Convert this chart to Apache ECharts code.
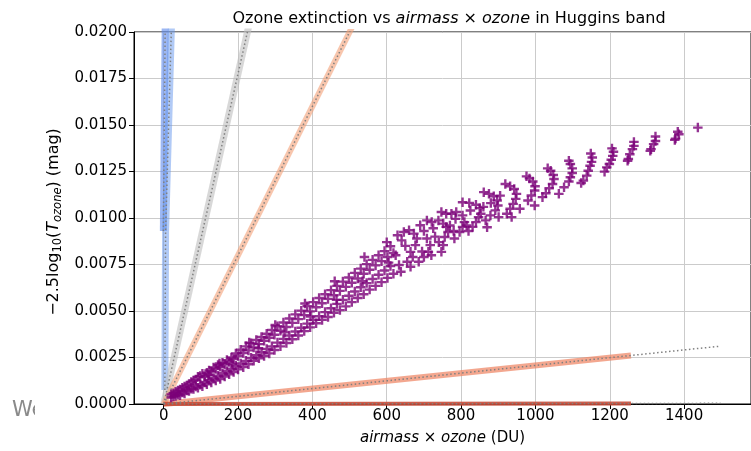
<!DOCTYPE html>
<html><head><meta charset="utf-8">
<script src="https://cdn.jsdelivr.net/npm/echarts@6/dist/echarts.min.js"></script>
<style>html,body{margin:0;padding:0;background:#fff}#c{width:751px;height:451px}</style>
</head><body><div id="c"></div>
<script>
// ---- data ----
const blueBandA = [[-1, 0.0093], [4, 0.0205]];
const blueBandB = [[3, 0.00075], [5, 0.0093], [21, 0.0205]];
const grayBand = [[0, 0], [233, 0.0207]];
const salmonUpper = [[0, 0], [520, 0.0208]];
const salmonLower = [[0, 0], [1257, 0.00261]];
const salmonLowerFit = [[0, 0], [1498, 0.00311]];
const redBand = [[0, 0], [1257, 0.00003]];
const redFit = [[0, 0], [1498, 0.000035]];

const scatterLow = [
[20,0.00035],[20,0.00052],[26,0.00040],[26,0.00058],[32,0.00066],[32,0.00043],[38,0.00050],[38,0.00072],
[44,0.00047],[44,0.00078],[50,0.00062],[50,0.00088],[56,0.00056],[56,0.00094],[62,0.00072],[62,0.00100],
[68,0.00070],[68,0.00108],[74,0.00082],[74,0.00118],[80,0.00081],[80,0.00126],[86,0.00094],[86,0.00132],
[92,0.00088],[92,0.00146],[98,0.00104],[98,0.00150],[104,0.00096],[104,0.00162],[110,0.00118],[110,0.00148],
[116,0.00106],[116,0.00168],[122,0.00130],[122,0.00180],[128,0.00116],[128,0.00175],[134,0.00140],[134,0.00196],
[140,0.00126],[140,0.00188],[146,0.00152],[146,0.00210],[152,0.00134],[152,0.00200],[158,0.00165],[158,0.00222],
[164,0.00148],[164,0.00212],[170,0.00178],[170,0.00236],[176,0.00160],[176,0.00226],[182,0.00190],[182,0.00250],
[188,0.00172],[188,0.00242],[194,0.00205],[194,0.00272],[200,0.00186],[200,0.00258],[207,0.00218],[207,0.00292],
[214,0.00198],[214,0.00274],[221,0.00232],[221,0.00310],[228,0.00214],[228,0.00288],[235,0.00248],[235,0.00326],
[242,0.00232],[242,0.00304],[249,0.00262],[249,0.00344],[256,0.00246],[256,0.00322],[263,0.00278],[263,0.00360],
[270,0.00258],[270,0.00340],[277,0.00296],[277,0.00378],[284,0.00272],[284,0.00356],[291,0.00310],[291,0.00398],
[298,0.00290],[298,0.00372],[306,0.00330],[306,0.00418],[314,0.00310],[314,0.00394],[322,0.00350],[322,0.00438],
[330,0.00328],[330,0.00414],[338,0.00368],[338,0.00460],[346,0.00348],[346,0.00436],[354,0.00390],[354,0.00482],
[362,0.00368],[362,0.00456],[370,0.00410],[370,0.00502],[378,0.00392],[378,0.00478],[386,0.00432],[386,0.00526],
[394,0.00412],[394,0.00498],[402,0.00452],[402,0.00548],[410,0.00434],[410,0.00520],[418,0.00472],[418,0.00570],
[426,0.00452],[426,0.00542],[434,0.00494],[434,0.00590],[442,0.00468],[442,0.00565],[450,0.00515],[450,0.00612],
[458,0.00490],[458,0.00585],[466,0.00538],[466,0.00635],[474,0.00505],[474,0.00608],[482,0.00560],[482,0.00658],
[490,0.00525],[490,0.00630],[498,0.00582],[498,0.00680],[506,0.00548],[506,0.00652],[514,0.00605],[514,0.00705],
[522,0.00570],[522,0.00675],[530,0.00628],[530,0.00728],[538,0.00590],[538,0.00700],[546,0.00650],[546,0.00752],
[554,0.00615],[554,0.00722],[562,0.00672],[562,0.00775],[570,0.00635],[570,0.00745],[578,0.00695],[578,0.00800],
[586,0.00655],[586,0.00768],[594,0.00718],[594,0.00822],[602,0.00678],[602,0.00790],[610,0.00742],[610,0.00848],
[618,0.00700],[618,0.00812],
[150,0.00218],[230,0.00330],[300,0.00425],[380,0.00540],[460,0.00660],[540,0.00790],[600,0.00870],
[120,0.00155],[185,0.00215],[255,0.00300],[325,0.00385],[395,0.00470],[465,0.00560],[535,0.00660],[605,0.00760]
];
const scatterHigh = [
[1437,0.01486],
[1383,0.01464],[1386,0.01450],[1377,0.01427],[1375,0.01420],
[1323,0.01438],[1323,0.01414],[1318,0.01397],[1311,0.01370],[1309,0.01361],
[1265,0.01409],[1265,0.01388],[1261,0.01370],[1254,0.01343],[1250,0.01317],[1248,0.01308],
[1206,0.01374],[1210,0.01356],[1208,0.01334],[1204,0.01313],[1199,0.01290],[1192,0.01272],[1186,0.01249],
[1149,0.01347],[1153,0.01325],[1151,0.01302],[1147,0.01281],[1142,0.01254],[1138,0.01228],[1129,0.01201],[1123,0.01188],
[1090,0.01308],[1094,0.01290],[1099,0.01267],[1099,0.01242],[1094,0.01219],[1090,0.01196],[1077,0.01165],[1063,0.01130],
[1033,0.01267],[1041,0.01254],[1048,0.01231],[1050,0.01210],[1046,0.01183],[1037,0.01160],[1028,0.01133],[1019,0.01112],
[976,0.01224],[984,0.01213],[993,0.01196],[999,0.01171],[998,0.01148],[989,0.01121],[980,0.01094],[998,0.01067],
[919,0.01183],[932,0.01171],[943,0.01156],[949,0.01130],[947,0.01103],[940,0.01076],[932,0.01050],[923,0.01023],[958,0.01050],[936,0.01005],
[861,0.01139],[875,0.01130],[888,0.01117],[897,0.01094],[899,0.01067],[892,0.01041],[879,0.01014],[866,0.00987],[901,0.01005],
[804,0.01085],[822,0.01081],[840,0.01071],[850,0.01053],[853,0.01023],[847,0.01005],[840,0.00978],[831,0.00952],[870,0.00950],
[747,0.01032],[760,0.01023],[774,0.01023],[787,0.01032],[804,0.01014],[809,0.00978],[804,0.00952],[796,0.00925],[782,0.00890],
[690,0.00961],[708,0.00987],[721,0.00978],[739,0.00987],[752,0.00970],[760,0.00952],[765,0.00925],[756,0.00898],[752,0.00854],[747,0.00818],
[629,0.00907],[646,0.00925],[660,0.00934],[673,0.00916],[681,0.00890],[677,0.00854],[664,0.00818],[655,0.00765],[708,0.00890],[717,0.00854],
[712,0.00818],[686,0.00765],[624,0.00800],[633,0.00747],[638,0.00711],[664,0.00738],
[700,0.00930],[725,0.00945],[730,0.00900],[740,0.00870],[770,0.00960],[780,0.00930],[785,0.00995],[815,0.00960],[820,0.00930],[825,0.01040],
[860,0.01060],[880,0.01080],[905,0.01120],[640,0.00880],[650,0.00850],[695,0.00820],[700,0.00790],[720,0.00800],[670,0.00790]
];

// ---- chart ----
const FONT = 'DejaVu Sans';
const chart = echarts.init(document.getElementById('c'), null, {renderer: 'canvas'});
function band(data, color, width, z) {
  return {type: 'line', data: data, symbol: 'none', silent: true, clip: true, z: z,
    lineStyle: {color: color, width: width, cap: 'butt'}, animation: false};
}
function dotted(data) {
  return {type: 'line', data: data, symbol: 'none', silent: true, clip: true, z: 5,
    lineStyle: {color: '#808080', width: 1.5, type: [1.5, 2.5], cap: 'butt'}, animation: false};
}
const option = {
  animation: false,
  backgroundColor: '#fff',
  grid: {left: 134, top: 32, width: 630, height: 374.5, containLabel: false,
    show: true, borderColor: '#000', borderWidth: 1, backgroundColor: 'transparent'},
  xAxis: {
    type: 'value', min: -80, max: 1580, splitNumber: 8,
    axisLine: {show: true, onZero: false, lineStyle: {color: '#000', width: 1}},
    axisTick: {show: true, inside: false, length: 5, lineStyle: {color: '#000'}},
    axisLabel: {fontSize: 15, fontFamily: FONT, color: '#000', margin: 5, showMinLabel: false, showMaxLabel: false,
      formatter: v => String(v)},
    splitLine: {show: true, lineStyle: {color: '#cbcbcb', width: 1}},
    name: '{i|airmass} × {i|ozone} (DU)', nameLocation: 'middle', nameGap: 27,
    nameTextStyle: {fontSize: 15, fontFamily: FONT, color: '#000', rich: {i: {fontStyle: 'italic', fontSize: 15, fontFamily: FONT}}}
  },
  yAxis: {
    type: 'value', min: 0, max: 0.02, interval: 0.0025,
    axisLine: {show: true, onZero: false, lineStyle: {color: '#000', width: 1}},
    axisTick: {show: true, inside: false, length: 5, lineStyle: {color: '#000'}},
    axisLabel: {fontSize: 15, fontFamily: FONT, color: '#000', margin: 7, formatter: v => v.toFixed(4)},
    splitLine: {show: true, lineStyle: {color: '#cbcbcb', width: 1}}
  },
  graphic: [
    {type: 'text', x: 449, y: 19, style: {
      text: 'Ozone extinction vs {i|airmass} × {i|ozone} in Huggins band',
      fontSize: 16, fontFamily: FONT, fill: '#000', align: 'center', verticalAlign: 'middle',
      rich: {i: {fontStyle: 'italic', fontSize: 16, fontFamily: FONT, fill: '#000'}}}},
    {type: 'text', x: 54, y: 222, rotation: Math.PI / 2, style: {
      text: '{n|−2.5log}{s|10}{n|(}{i|T}{si|ozone}{n|) (mag)}',
      fontSize: 16, fontFamily: FONT, fill: '#000', align: 'center', verticalAlign: 'middle',
      rich: {
        n: {fontSize: 16, fontFamily: FONT, lineHeight: 20, fill: '#000'},
        i: {fontSize: 16, fontFamily: FONT, fontStyle: 'italic', lineHeight: 20, fill: '#000'},
        s: {fontSize: 11.5, fontFamily: FONT, lineHeight: 12, verticalAlign: 'bottom', fill: '#000'},
        si: {fontSize: 11.5, fontFamily: FONT, fontStyle: 'italic', lineHeight: 12, verticalAlign: 'bottom', fill: '#000'}
      }}},
    {type: 'text', x: 12, y: 411, z: 1, style: {text: 'We', fontSize: 21, fontFamily: FONT, fill: '#8a8a8a', verticalAlign: 'middle'}},
    {type: 'rect', z: 2, shape: {x: 35, y: 396, width: 30, height: 30}, style: {fill: '#fff'}}
  ],
  series: [
    band(blueBandA, 'rgba(90,135,235,0.6)', 7, 2),
    band(blueBandB, 'rgba(100,149,237,0.5)', 7, 2),
    band(grayBand, 'rgba(190,190,190,0.6)', 7, 2),
    band(salmonUpper, 'rgba(244,160,118,0.6)', 6, 2),
    band(salmonLower, 'rgba(238,130,95,0.7)', 6, 2),
    band(redBand, 'rgba(200,75,55,0.9)', 4, 2),
    dotted(blueBandA), dotted(blueBandB), dotted(grayBand), dotted(salmonUpper),
    dotted(salmonLowerFit), dotted(redFit),
    {type: 'scatter', data: scatterLow.concat(scatterHigh), z: 10, silent: true,
      symbol: 'path://M3.75,0H6.25V3.75H10V6.25H6.25V10H3.75V6.25H0V3.75H3.75Z', symbolSize: 9.5,
      itemStyle: {color: '#7a0078'}}
  ]
};
chart.setOption(option);
</script></body></html>
